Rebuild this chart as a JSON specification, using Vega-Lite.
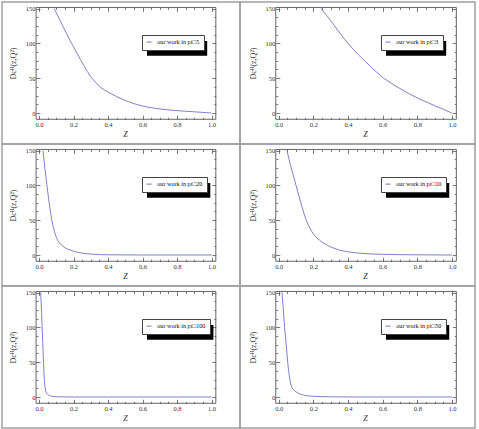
{
"$schema": "https://vega.github.io/schema/vega-lite/v6.json",
"padding": {"left": 1, "top": 1, "right": 4, "bottom": 1},
"background": "white",
"columns": 2,
"spacing": 0,
"bounds": "flush",
"resolve": {"scale": {"stroke": "independent"}, "legend": {"stroke": "independent"}},
"datasets": {
"curves": [
{"series":"our work in pt□5","z":0.088,"D":150},{"series":"our work in pt□5","z":0.10,"D":144},{"series":"our work in pt□5","z":0.12,"D":134},{"series":"our work in pt□5","z":0.14,"D":124},{"series":"our work in pt□5","z":0.16,"D":114},{"series":"our work in pt□5","z":0.18,"D":104},{"series":"our work in pt□5","z":0.20,"D":95},{"series":"our work in pt□5","z":0.22,"D":86},{"series":"our work in pt□5","z":0.24,"D":77},{"series":"our work in pt□5","z":0.26,"D":68},{"series":"our work in pt□5","z":0.28,"D":59.5},{"series":"our work in pt□5","z":0.30,"D":52},{"series":"our work in pt□5","z":0.32,"D":46},{"series":"our work in pt□5","z":0.34,"D":41},{"series":"our work in pt□5","z":0.36,"D":36.5},{"series":"our work in pt□5","z":0.38,"D":33},{"series":"our work in pt□5","z":0.40,"D":30},{"series":"our work in pt□5","z":0.45,"D":23.5},{"series":"our work in pt□5","z":0.50,"D":18},{"series":"our work in pt□5","z":0.55,"D":13.5},{"series":"our work in pt□5","z":0.60,"D":10},{"series":"our work in pt□5","z":0.65,"D":7.6},{"series":"our work in pt□5","z":0.70,"D":5.8},{"series":"our work in pt□5","z":0.75,"D":4.5},{"series":"our work in pt□5","z":0.80,"D":3.4},{"series":"our work in pt□5","z":0.85,"D":2.5},{"series":"our work in pt□5","z":0.90,"D":1.7},{"series":"our work in pt□5","z":0.95,"D":0.9},{"series":"our work in pt□5","z":1.00,"D":0},
{"series":"our work in pt□3","z":0.244,"D":150},{"series":"our work in pt□3","z":0.26,"D":145},{"series":"our work in pt□3","z":0.28,"D":139},{"series":"our work in pt□3","z":0.30,"D":132.5},{"series":"our work in pt□3","z":0.32,"D":126},{"series":"our work in pt□3","z":0.34,"D":119},{"series":"our work in pt□3","z":0.36,"D":112.5},{"series":"our work in pt□3","z":0.38,"D":106},{"series":"our work in pt□3","z":0.40,"D":100},{"series":"our work in pt□3","z":0.43,"D":91.5},{"series":"our work in pt□3","z":0.46,"D":83.5},{"series":"our work in pt□3","z":0.50,"D":74},{"series":"our work in pt□3","z":0.55,"D":62},{"series":"our work in pt□3","z":0.60,"D":51},{"series":"our work in pt□3","z":0.65,"D":42.5},{"series":"our work in pt□3","z":0.70,"D":35},{"series":"our work in pt□3","z":0.75,"D":28},{"series":"our work in pt□3","z":0.80,"D":21.6},{"series":"our work in pt□3","z":0.85,"D":16},{"series":"our work in pt□3","z":0.90,"D":10.5},{"series":"our work in pt□3","z":0.95,"D":5.2},{"series":"our work in pt□3","z":1.00,"D":0},
{"series":"our work in pt□20","z":0.023,"D":150},{"series":"our work in pt□20","z":0.03,"D":134},{"series":"our work in pt□20","z":0.035,"D":123},{"series":"our work in pt□20","z":0.04,"D":112.5},{"series":"our work in pt□20","z":0.046,"D":100},{"series":"our work in pt□20","z":0.05,"D":92},{"series":"our work in pt□20","z":0.055,"D":82},{"series":"our work in pt□20","z":0.06,"D":73},{"series":"our work in pt□20","z":0.067,"D":61},{"series":"our work in pt□20","z":0.074,"D":50.5},{"series":"our work in pt□20","z":0.08,"D":43},{"series":"our work in pt□20","z":0.09,"D":33},{"series":"our work in pt□20","z":0.10,"D":25.5},{"series":"our work in pt□20","z":0.11,"D":20.5},{"series":"our work in pt□20","z":0.12,"D":17},{"series":"our work in pt□20","z":0.13,"D":14.3},{"series":"our work in pt□20","z":0.15,"D":10.5},{"series":"our work in pt□20","z":0.17,"D":8},{"series":"our work in pt□20","z":0.20,"D":5.5},{"series":"our work in pt□20","z":0.23,"D":3.6},{"series":"our work in pt□20","z":0.26,"D":2.3},{"series":"our work in pt□20","z":0.30,"D":1.3},{"series":"our work in pt□20","z":0.35,"D":0.6},{"series":"our work in pt□20","z":0.40,"D":0.3},{"series":"our work in pt□20","z":0.50,"D":0.1},{"series":"our work in pt□20","z":0.60,"D":0.03},{"series":"our work in pt□20","z":0.80,"D":0},{"series":"our work in pt□20","z":1.00,"D":0},
{"series":"our work in pt□10","z":0.048,"D":150},{"series":"our work in pt□10","z":0.06,"D":137},{"series":"our work in pt□10","z":0.07,"D":127},{"series":"our work in pt□10","z":0.08,"D":118},{"series":"our work in pt□10","z":0.09,"D":109},{"series":"our work in pt□10","z":0.10,"D":100},{"series":"our work in pt□10","z":0.11,"D":91},{"series":"our work in pt□10","z":0.12,"D":82},{"series":"our work in pt□10","z":0.13,"D":73},{"series":"our work in pt□10","z":0.14,"D":64.5},{"series":"our work in pt□10","z":0.15,"D":56.5},{"series":"our work in pt□10","z":0.16,"D":49.5},{"series":"our work in pt□10","z":0.17,"D":43.5},{"series":"our work in pt□10","z":0.18,"D":38.5},{"series":"our work in pt□10","z":0.19,"D":34},{"series":"our work in pt□10","z":0.20,"D":30},{"series":"our work in pt□10","z":0.22,"D":24.5},{"series":"our work in pt□10","z":0.25,"D":18.5},{"series":"our work in pt□10","z":0.28,"D":14},{"series":"our work in pt□10","z":0.30,"D":11.5},{"series":"our work in pt□10","z":0.35,"D":7},{"series":"our work in pt□10","z":0.40,"D":4.6},{"series":"our work in pt□10","z":0.45,"D":3},{"series":"our work in pt□10","z":0.50,"D":2},{"series":"our work in pt□10","z":0.55,"D":1.4},{"series":"our work in pt□10","z":0.60,"D":1},{"series":"our work in pt□10","z":0.70,"D":0.5},{"series":"our work in pt□10","z":0.80,"D":0.25},{"series":"our work in pt□10","z":0.90,"D":0.1},{"series":"our work in pt□10","z":1.00,"D":0},
{"series":"our work in pt□100","z":0.010,"D":150},{"series":"our work in pt□100","z":0.015,"D":120},{"series":"our work in pt□100","z":0.020,"D":88},{"series":"our work in pt□100","z":0.025,"D":57},{"series":"our work in pt□100","z":0.029,"D":34},{"series":"our work in pt□100","z":0.032,"D":21},{"series":"our work in pt□100","z":0.035,"D":14},{"series":"our work in pt□100","z":0.04,"D":8},{"series":"our work in pt□100","z":0.045,"D":5.3},{"series":"our work in pt□100","z":0.05,"D":3.7},{"series":"our work in pt□100","z":0.06,"D":2.1},{"series":"our work in pt□100","z":0.07,"D":1.3},{"series":"our work in pt□100","z":0.08,"D":0.8},{"series":"our work in pt□100","z":0.10,"D":0.4},{"series":"our work in pt□100","z":0.15,"D":0.1},{"series":"our work in pt□100","z":0.20,"D":0},{"series":"our work in pt□100","z":0.50,"D":0},{"series":"our work in pt□100","z":1.00,"D":0},
{"series":"our work in pt□50","z":0.019,"D":150},{"series":"our work in pt□50","z":0.025,"D":131},{"series":"our work in pt□50","z":0.03,"D":114},{"series":"our work in pt□50","z":0.034,"D":100},{"series":"our work in pt□50","z":0.04,"D":84},{"series":"our work in pt□50","z":0.046,"D":67},{"series":"our work in pt□50","z":0.052,"D":50},{"series":"our work in pt□50","z":0.057,"D":38},{"series":"our work in pt□50","z":0.062,"D":28.5},{"series":"our work in pt□50","z":0.067,"D":21.5},{"series":"our work in pt□50","z":0.072,"D":16.5},{"series":"our work in pt□50","z":0.08,"D":12},{"series":"our work in pt□50","z":0.09,"D":9.3},{"series":"our work in pt□50","z":0.10,"D":7.5},{"series":"our work in pt□50","z":0.115,"D":5.2},{"series":"our work in pt□50","z":0.13,"D":3.6},{"series":"our work in pt□50","z":0.16,"D":1.9},{"series":"our work in pt□50","z":0.20,"D":1},{"series":"our work in pt□50","z":0.25,"D":0.5},{"series":"our work in pt□50","z":0.30,"D":0.25},{"series":"our work in pt□50","z":0.40,"D":0.1},{"series":"our work in pt□50","z":0.50,"D":0},{"series":"our work in pt□50","z":0.70,"D":0},{"series":"our work in pt□50","z":1.00,"D":0}
]
},
"concat": [
{"width": 238, "height": 142,
 "layer": [
  {"data": {"values": [{}]}, "mark": {"type": "rect", "fill": "white", "fillOpacity": 0, "stroke": "#555", "strokeWidth": 0.9},
   "encoding": {
    "x": {"datum": -0.017, "type": "quantitative", "scale": {"domain": [-0.2145, 1.1652], "nice": false, "zero": false}, "axis": {"orient": "bottom", "offset": -24.73, "values": [0,0.05,0.1,0.15,0.2,0.25,0.3,0.35,0.4,0.45,0.5,0.55,0.6,0.65,0.7,0.75,0.8,0.85,0.9,0.95,1], "tickSize": -4, "tickDash": {"condition": {"test": "round(datum.value*100) % 20 == 0", "value": [6,1]}, "value": [2,10]}, "labelExpr": "round(datum.value*100) % 20 == 0 ? format(datum.value, '.1f') : ''", "labelPadding": 6, "title": "Z", "titleFontStyle": "italic", "titlePadding": 3, "titleX": 123}},
    "x2": {"datum": 1.025},
    "y": {"datum": -9, "type": "quantitative", "scale": {"domain": [-44.49, 159.33], "nice": false, "zero": false}, "axis": {"orient": "left", "offset": -34, "values": [0,12.5,25,37.5,50,62.5,75,87.5,100,112.5,125,137.5,150], "tickSize": -4, "tickDash": {"condition": {"test": "datum.value % 50 == 0", "value": [6,1]}, "value": [2,10]}, "labelExpr": "datum.value % 50 == 0 ? format(datum.value, 'd') : ''", "labelPadding": 5, "title": "Dcᴴ(z,Q²)", "titlePadding": 8, "titleY": 61}},
    "y2": {"datum": 151.5}}},
  {"data": {"values": [{}]}, "mark": {"type": "rect", "fill": "black"},
   "encoding": {"x": {"datum": 0.626, "type": "quantitative", "axis": null}, "x2": {"datum": 0.975}, "y": {"datum": 82.2, "type": "quantitative", "axis": null}, "y2": {"datum": 103.3}}},
  {"data": {"name": "curves"}, "transform": [{"filter": "datum.series == 'our work in pt□5'"}],
   "mark": {"type": "line", "strokeWidth": 0.9},
   "encoding": {
    "x": {"field": "z", "type": "quantitative", "axis": {"orient": "top", "offset": -5.45, "values": [0,0.05,0.1,0.15,0.2,0.25,0.3,0.35,0.4,0.45,0.5,0.55,0.6,0.65,0.7,0.75,0.8,0.85,0.9,0.95,1], "tickSize": -4, "tickDash": {"condition": {"test": "round(datum.value*100) % 20 == 0", "value": [6,1]}, "value": [2,10]}, "labels": false, "title": null}},
    "y": {"field": "D", "type": "quantitative", "axis": {"orient": "right", "offset": -24.2, "values": [0,12.5,25,37.5,50,62.5,75,87.5,100,112.5,125,137.5,150], "tickSize": -4, "tickDash": {"condition": {"test": "datum.value % 50 == 0", "value": [6,1]}, "value": [2,10]}, "labels": false, "title": null}},
    "stroke": {"field": "series", "type": "nominal", "scale": {"range": ["#7373bd"]}, "legend": {"legendX": 140, "legendY": 33}}}}
 ],
 "resolve": {"axis": {"x": "independent", "y": "independent"}}},
{"width": 235, "height": 142,
 "layer": [
  {"data": {"values": [{}]}, "mark": {"type": "rect", "fill": "white", "fillOpacity": 0, "stroke": "#555", "strokeWidth": 0.9},
   "encoding": {
    "x": {"datum": -0.017, "type": "quantitative", "scale": {"domain": [-0.2233, 1.1327], "nice": false, "zero": false}, "axis": {"orient": "bottom", "offset": -24.73, "values": [0,0.05,0.1,0.15,0.2,0.25,0.3,0.35,0.4,0.45,0.5,0.55,0.6,0.65,0.7,0.75,0.8,0.85,0.9,0.95,1], "tickSize": -4, "tickDash": {"condition": {"test": "round(datum.value*100) % 20 == 0", "value": [6,1]}, "value": [2,10]}, "labelExpr": "round(datum.value*100) % 20 == 0 ? format(datum.value, '.1f') : ''", "labelPadding": 6, "title": "Z", "titleFontStyle": "italic", "titlePadding": 3, "titleX": 125}},
    "x2": {"datum": 1.025},
    "y": {"datum": -9, "type": "quantitative", "scale": {"domain": [-44.49, 159.33], "nice": false, "zero": false}, "axis": {"orient": "left", "offset": -35.8, "values": [0,12.5,25,37.5,50,62.5,75,87.5,100,112.5,125,137.5,150], "tickSize": -4, "tickDash": {"condition": {"test": "datum.value % 50 == 0", "value": [6,1]}, "value": [2,10]}, "labelExpr": "datum.value % 50 == 0 ? format(datum.value, 'd') : ''", "labelPadding": 5, "title": "Dcᴴ(z,Q²)", "titlePadding": 8, "titleY": 61}},
    "y2": {"datum": 151.5}}},
  {"data": {"values": [{}]}, "mark": {"type": "rect", "fill": "black"},
   "encoding": {"x": {"datum": 0.619, "type": "quantitative", "axis": null}, "x2": {"datum": 0.9665}, "y": {"datum": 82.2, "type": "quantitative", "axis": null}, "y2": {"datum": 103.3}}},
  {"data": {"name": "curves"}, "transform": [{"filter": "datum.series == 'our work in pt□3'"}],
   "mark": {"type": "line", "strokeWidth": 0.9},
   "encoding": {
    "x": {"field": "z", "type": "quantitative", "axis": {"orient": "top", "offset": -5.45, "values": [0,0.05,0.1,0.15,0.2,0.25,0.3,0.35,0.4,0.45,0.5,0.55,0.6,0.65,0.7,0.75,0.8,0.85,0.9,0.95,1], "tickSize": -4, "tickDash": {"condition": {"test": "round(datum.value*100) % 20 == 0", "value": [6,1]}, "value": [2,10]}, "labels": false, "title": null}},
    "y": {"field": "D", "type": "quantitative", "axis": {"orient": "right", "offset": -18.7, "values": [0,12.5,25,37.5,50,62.5,75,87.5,100,112.5,125,137.5,150], "tickSize": -4, "tickDash": {"condition": {"test": "datum.value % 50 == 0", "value": [6,1]}, "value": [2,10]}, "labels": false, "title": null}},
    "stroke": {"field": "series", "type": "nominal", "scale": {"range": ["#7373bd"]}, "legend": {"legendX": 141, "legendY": 33}}}}
 ],
 "resolve": {"axis": {"x": "independent", "y": "independent"}}},
{"width": 238, "height": 142,
 "layer": [
  {"data": {"values": [{}]}, "mark": {"type": "rect", "fill": "white", "fillOpacity": 0, "stroke": "#555", "strokeWidth": 0.9},
   "encoding": {
    "x": {"datum": -0.017, "type": "quantitative", "scale": {"domain": [-0.2145, 1.1652], "nice": false, "zero": false}, "axis": {"orient": "bottom", "offset": -24.73, "values": [0,0.05,0.1,0.15,0.2,0.25,0.3,0.35,0.4,0.45,0.5,0.55,0.6,0.65,0.7,0.75,0.8,0.85,0.9,0.95,1], "tickSize": -4, "tickDash": {"condition": {"test": "round(datum.value*100) % 20 == 0", "value": [6,1]}, "value": [2,10]}, "labelExpr": "round(datum.value*100) % 20 == 0 ? format(datum.value, '.1f') : ''", "labelPadding": 6, "title": "Z", "titleFontStyle": "italic", "titlePadding": 3, "titleX": 123}},
    "x2": {"datum": 1.025},
    "y": {"datum": -9, "type": "quantitative", "scale": {"domain": [-44.49, 159.33], "nice": false, "zero": false}, "axis": {"orient": "left", "offset": -34, "values": [0,12.5,25,37.5,50,62.5,75,87.5,100,112.5,125,137.5,150], "tickSize": -4, "tickDash": {"condition": {"test": "datum.value % 50 == 0", "value": [6,1]}, "value": [2,10]}, "labelExpr": "datum.value % 50 == 0 ? format(datum.value, 'd') : ''", "labelPadding": 5, "title": "Dcᴴ(z,Q²)", "titlePadding": 8, "titleY": 61}},
    "y2": {"datum": 151.5}}},
  {"data": {"values": [{}]}, "mark": {"type": "rect", "fill": "black"},
   "encoding": {"x": {"datum": 0.626, "type": "quantitative", "axis": null}, "x2": {"datum": 0.993}, "y": {"datum": 82.2, "type": "quantitative", "axis": null}, "y2": {"datum": 103.3}}},
  {"data": {"name": "curves"}, "transform": [{"filter": "datum.series == 'our work in pt□20'"}],
   "mark": {"type": "line", "strokeWidth": 0.9},
   "encoding": {
    "x": {"field": "z", "type": "quantitative", "axis": {"orient": "top", "offset": -5.45, "values": [0,0.05,0.1,0.15,0.2,0.25,0.3,0.35,0.4,0.45,0.5,0.55,0.6,0.65,0.7,0.75,0.8,0.85,0.9,0.95,1], "tickSize": -4, "tickDash": {"condition": {"test": "round(datum.value*100) % 20 == 0", "value": [6,1]}, "value": [2,10]}, "labels": false, "title": null}},
    "y": {"field": "D", "type": "quantitative", "axis": {"orient": "right", "offset": -24.2, "values": [0,12.5,25,37.5,50,62.5,75,87.5,100,112.5,125,137.5,150], "tickSize": -4, "tickDash": {"condition": {"test": "datum.value % 50 == 0", "value": [6,1]}, "value": [2,10]}, "labels": false, "title": null}},
    "stroke": {"field": "series", "type": "nominal", "scale": {"range": ["#7373bd"]}, "legend": {"legendX": 140, "legendY": 33}}}}
 ],
 "resolve": {"axis": {"x": "independent", "y": "independent"}}},
{"width": 235, "height": 142,
 "layer": [
  {"data": {"values": [{}]}, "mark": {"type": "rect", "fill": "white", "fillOpacity": 0, "stroke": "#555", "strokeWidth": 0.9},
   "encoding": {
    "x": {"datum": -0.017, "type": "quantitative", "scale": {"domain": [-0.2233, 1.1327], "nice": false, "zero": false}, "axis": {"orient": "bottom", "offset": -24.73, "values": [0,0.05,0.1,0.15,0.2,0.25,0.3,0.35,0.4,0.45,0.5,0.55,0.6,0.65,0.7,0.75,0.8,0.85,0.9,0.95,1], "tickSize": -4, "tickDash": {"condition": {"test": "round(datum.value*100) % 20 == 0", "value": [6,1]}, "value": [2,10]}, "labelExpr": "round(datum.value*100) % 20 == 0 ? format(datum.value, '.1f') : ''", "labelPadding": 6, "title": "Z", "titleFontStyle": "italic", "titlePadding": 3, "titleX": 125}},
    "x2": {"datum": 1.025},
    "y": {"datum": -9, "type": "quantitative", "scale": {"domain": [-44.49, 159.33], "nice": false, "zero": false}, "axis": {"orient": "left", "offset": -35.8, "values": [0,12.5,25,37.5,50,62.5,75,87.5,100,112.5,125,137.5,150], "tickSize": -4, "tickDash": {"condition": {"test": "datum.value % 50 == 0", "value": [6,1]}, "value": [2,10]}, "labelExpr": "datum.value % 50 == 0 ? format(datum.value, 'd') : ''", "labelPadding": 5, "title": "Dcᴴ(z,Q²)", "titlePadding": 8, "titleY": 61}},
    "y2": {"datum": 151.5}}},
  {"data": {"values": [{}]}, "mark": {"type": "rect", "fill": "black"},
   "encoding": {"x": {"datum": 0.619, "type": "quantitative", "axis": null}, "x2": {"datum": 0.984}, "y": {"datum": 82.2, "type": "quantitative", "axis": null}, "y2": {"datum": 103.3}}},
  {"data": {"name": "curves"}, "transform": [{"filter": "datum.series == 'our work in pt□10'"}],
   "mark": {"type": "line", "strokeWidth": 0.9},
   "encoding": {
    "x": {"field": "z", "type": "quantitative", "axis": {"orient": "top", "offset": -5.45, "values": [0,0.05,0.1,0.15,0.2,0.25,0.3,0.35,0.4,0.45,0.5,0.55,0.6,0.65,0.7,0.75,0.8,0.85,0.9,0.95,1], "tickSize": -4, "tickDash": {"condition": {"test": "round(datum.value*100) % 20 == 0", "value": [6,1]}, "value": [2,10]}, "labels": false, "title": null}},
    "y": {"field": "D", "type": "quantitative", "axis": {"orient": "right", "offset": -18.7, "values": [0,12.5,25,37.5,50,62.5,75,87.5,100,112.5,125,137.5,150], "tickSize": -4, "tickDash": {"condition": {"test": "datum.value % 50 == 0", "value": [6,1]}, "value": [2,10]}, "labels": false, "title": null}},
    "stroke": {"field": "series", "type": "nominal", "scale": {"range": ["#7373bd"]}, "legend": {"legendX": 141, "legendY": 33}}}}
 ],
 "resolve": {"axis": {"x": "independent", "y": "independent"}}},
{"width": 238, "height": 142,
 "layer": [
  {"data": {"values": [{}]}, "mark": {"type": "rect", "fill": "white", "fillOpacity": 0, "stroke": "#555", "strokeWidth": 0.9},
   "encoding": {
    "x": {"datum": -0.017, "type": "quantitative", "scale": {"domain": [-0.2145, 1.1652], "nice": false, "zero": false}, "axis": {"orient": "bottom", "offset": -24.73, "values": [0,0.05,0.1,0.15,0.2,0.25,0.3,0.35,0.4,0.45,0.5,0.55,0.6,0.65,0.7,0.75,0.8,0.85,0.9,0.95,1], "tickSize": -4, "tickDash": {"condition": {"test": "round(datum.value*100) % 20 == 0", "value": [6,1]}, "value": [2,10]}, "labelExpr": "round(datum.value*100) % 20 == 0 ? format(datum.value, '.1f') : ''", "labelPadding": 6, "title": "Z", "titleFontStyle": "italic", "titlePadding": 3, "titleX": 123}},
    "x2": {"datum": 1.025},
    "y": {"datum": -9, "type": "quantitative", "scale": {"domain": [-44.49, 159.33], "nice": false, "zero": false}, "axis": {"orient": "left", "offset": -34, "values": [0,12.5,25,37.5,50,62.5,75,87.5,100,112.5,125,137.5,150], "tickSize": -4, "tickDash": {"condition": {"test": "datum.value % 50 == 0", "value": [6,1]}, "value": [2,10]}, "labelExpr": "datum.value % 50 == 0 ? format(datum.value, 'd') : ''", "labelPadding": 5, "title": "Dcᴴ(z,Q²)", "titlePadding": 8, "titleY": 61}},
    "y2": {"datum": 151.5}}},
  {"data": {"values": [{}]}, "mark": {"type": "rect", "fill": "black"},
   "encoding": {"x": {"datum": 0.626, "type": "quantitative", "axis": null}, "x2": {"datum": 1.011}, "y": {"datum": 82.2, "type": "quantitative", "axis": null}, "y2": {"datum": 103.3}}},
  {"data": {"name": "curves"}, "transform": [{"filter": "datum.series == 'our work in pt□100'"}],
   "mark": {"type": "line", "strokeWidth": 0.9},
   "encoding": {
    "x": {"field": "z", "type": "quantitative", "axis": {"orient": "top", "offset": -5.45, "values": [0,0.05,0.1,0.15,0.2,0.25,0.3,0.35,0.4,0.45,0.5,0.55,0.6,0.65,0.7,0.75,0.8,0.85,0.9,0.95,1], "tickSize": -4, "tickDash": {"condition": {"test": "round(datum.value*100) % 20 == 0", "value": [6,1]}, "value": [2,10]}, "labels": false, "title": null}},
    "y": {"field": "D", "type": "quantitative", "axis": {"orient": "right", "offset": -24.2, "values": [0,12.5,25,37.5,50,62.5,75,87.5,100,112.5,125,137.5,150], "tickSize": -4, "tickDash": {"condition": {"test": "datum.value % 50 == 0", "value": [6,1]}, "value": [2,10]}, "labels": false, "title": null}},
    "stroke": {"field": "series", "type": "nominal", "scale": {"range": ["#7373bd"]}, "legend": {"legendX": 140, "legendY": 33}}}}
 ],
 "resolve": {"axis": {"x": "independent", "y": "independent"}}},
{"width": 235, "height": 142,
 "layer": [
  {"data": {"values": [{}]}, "mark": {"type": "rect", "fill": "white", "fillOpacity": 0, "stroke": "#555", "strokeWidth": 0.9},
   "encoding": {
    "x": {"datum": -0.017, "type": "quantitative", "scale": {"domain": [-0.2233, 1.1327], "nice": false, "zero": false}, "axis": {"orient": "bottom", "offset": -24.73, "values": [0,0.05,0.1,0.15,0.2,0.25,0.3,0.35,0.4,0.45,0.5,0.55,0.6,0.65,0.7,0.75,0.8,0.85,0.9,0.95,1], "tickSize": -4, "tickDash": {"condition": {"test": "round(datum.value*100) % 20 == 0", "value": [6,1]}, "value": [2,10]}, "labelExpr": "round(datum.value*100) % 20 == 0 ? format(datum.value, '.1f') : ''", "labelPadding": 6, "title": "Z", "titleFontStyle": "italic", "titlePadding": 3, "titleX": 125}},
    "x2": {"datum": 1.025},
    "y": {"datum": -9, "type": "quantitative", "scale": {"domain": [-44.49, 159.33], "nice": false, "zero": false}, "axis": {"orient": "left", "offset": -35.8, "values": [0,12.5,25,37.5,50,62.5,75,87.5,100,112.5,125,137.5,150], "tickSize": -4, "tickDash": {"condition": {"test": "datum.value % 50 == 0", "value": [6,1]}, "value": [2,10]}, "labelExpr": "datum.value % 50 == 0 ? format(datum.value, 'd') : ''", "labelPadding": 5, "title": "Dcᴴ(z,Q²)", "titlePadding": 8, "titleY": 61}},
    "y2": {"datum": 151.5}}},
  {"data": {"values": [{}]}, "mark": {"type": "rect", "fill": "black"},
   "encoding": {"x": {"datum": 0.619, "type": "quantitative", "axis": null}, "x2": {"datum": 0.984}, "y": {"datum": 82.2, "type": "quantitative", "axis": null}, "y2": {"datum": 103.3}}},
  {"data": {"name": "curves"}, "transform": [{"filter": "datum.series == 'our work in pt□50'"}],
   "mark": {"type": "line", "strokeWidth": 0.9},
   "encoding": {
    "x": {"field": "z", "type": "quantitative", "axis": {"orient": "top", "offset": -5.45, "values": [0,0.05,0.1,0.15,0.2,0.25,0.3,0.35,0.4,0.45,0.5,0.55,0.6,0.65,0.7,0.75,0.8,0.85,0.9,0.95,1], "tickSize": -4, "tickDash": {"condition": {"test": "round(datum.value*100) % 20 == 0", "value": [6,1]}, "value": [2,10]}, "labels": false, "title": null}},
    "y": {"field": "D", "type": "quantitative", "axis": {"orient": "right", "offset": -18.7, "values": [0,12.5,25,37.5,50,62.5,75,87.5,100,112.5,125,137.5,150], "tickSize": -4, "tickDash": {"condition": {"test": "datum.value % 50 == 0", "value": [6,1]}, "value": [2,10]}, "labels": false, "title": null}},
    "stroke": {"field": "series", "type": "nominal", "scale": {"range": ["#7373bd"]}, "legend": {"legendX": 141, "legendY": 33}}}}
 ],
 "resolve": {"axis": {"x": "independent", "y": "independent"}}}
],
"config": {
 "view": {"stroke": "#a0a0a0", "strokeWidth": 1.5},
 "axis": {"labelFont": "Liberation Serif", "labelFontSize": 6.5, "labelColor": "#333", "titleFont": "Liberation Serif", "titleFontWeight": "normal", "titleFontSize": 8, "titleColor": "#333", "tickColor": "#555", "tickWidth": 0.8, "domain": false, "grid": false, "labelOverlap": false, "labelBound": false, "labelFlush": false},
 "legend": {"orient": "none", "title": null, "labelFont": "Liberation Serif", "labelFontSize": 6.2, "labelColor": "#111", "symbolType": "stroke", "symbolSize": 25, "symbolStrokeWidth": 1, "padding": 4, "fillColor": "white", "strokeColor": "#444", "labelOffset": 5}
}
}
